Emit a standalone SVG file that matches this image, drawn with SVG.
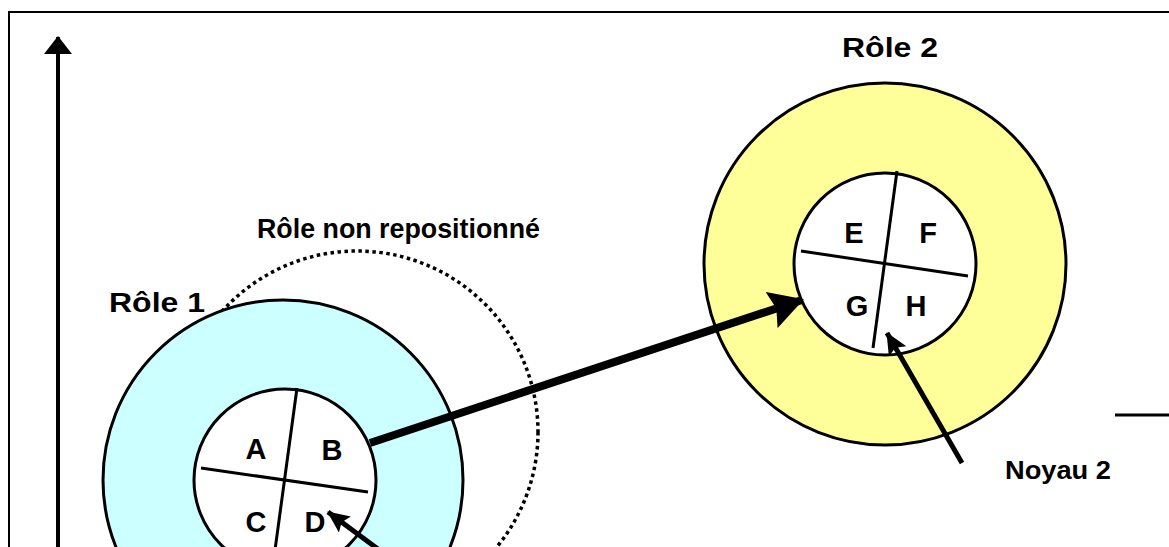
<svg xmlns="http://www.w3.org/2000/svg" width="1169" height="547" viewBox="0 0 1169 547">
  <style>
    .lbl { font-family: "Liberation Sans", Arial, sans-serif; font-weight: bold; fill: #000; }
    .title { font-size: 27px; }
    .quad { font-size: 29px; text-anchor: middle; }
    .ring { stroke: #000; stroke-width: 3; }
    .div { stroke: #000; stroke-width: 3; fill: none; }
  </style>
  <defs>
    <marker id="headBig" markerUnits="userSpaceOnUse" viewBox="0 0 34 38" refX="32" refY="19" markerWidth="34" markerHeight="38" orient="auto">
      <path d="M0,0 L34,19 L0,38 L5,19 Z" fill="#000"/>
    </marker>
    <marker id="headSmall" markerUnits="userSpaceOnUse" viewBox="0 0 22 20" refX="21" refY="10" markerWidth="22" markerHeight="20" orient="auto">
      <path d="M0,0 L22,10 L0,20 L4,10 Z" fill="#000"/>
    </marker>
    <marker id="headAxis" markerUnits="userSpaceOnUse" viewBox="0 0 18 28" refX="17" refY="14" markerWidth="18" markerHeight="28" orient="auto">
      <path d="M0,0 L18,14 L0,28 Z" fill="#000"/>
    </marker>
  </defs>

  <g id="frame">
    <path d="M9,547 V12 H1169" fill="none" stroke="#000" stroke-width="2"/>
    <line x1="1115" y1="415" x2="1169" y2="415" stroke="#000" stroke-width="3"/>
  </g>

  <g id="axis">
    <line x1="58" y1="547" x2="58" y2="37" stroke="#000" stroke-width="4" marker-end="url(#headAxis)"/>
  </g>

  <g id="role-non-repositionne">
    <circle cx="357" cy="432" r="181" fill="none" stroke="#000" stroke-width="3.5" stroke-dasharray="3.5 3.5"/>
    <text class="lbl title" x="257" y="238" textLength="283" lengthAdjust="spacingAndGlyphs">Rôle non repositionné</text>
  </g>

  <g id="role1">
    <circle class="ring" cx="283" cy="480" r="180" fill="#CCFFFF"/>
    <circle class="ring" cx="285" cy="480" r="91" fill="#FFFFFF"/>
    <line class="div" x1="297" y1="388" x2="275" y2="550"/>
    <line class="div" x1="201" y1="468" x2="368" y2="492"/>
    <text class="lbl quad" x="256" y="459">A</text>
    <text class="lbl quad" x="332" y="460">B</text>
    <text class="lbl quad" x="256" y="532">C</text>
    <text class="lbl quad" x="315" y="532">D</text>
    <text class="lbl title" x="109" y="312" textLength="96" lengthAdjust="spacingAndGlyphs">Rôle 1</text>
  </g>

  <g id="role2">
    <circle class="ring" cx="885" cy="264" r="181" fill="#FFFF99"/>
    <circle class="ring" cx="885" cy="264" r="91" fill="#FFFFFF"/>
    <line class="div" x1="897" y1="171" x2="873" y2="348"/>
    <line class="div" x1="801" y1="251" x2="968" y2="276"/>
    <text class="lbl quad" x="854" y="243">E</text>
    <text class="lbl quad" x="928" y="243">F</text>
    <text class="lbl quad" x="857" y="316">G</text>
    <text class="lbl quad" x="916" y="316">H</text>
    <text class="lbl title" x="842" y="57" textLength="96" lengthAdjust="spacingAndGlyphs">Rôle 2</text>
  </g>

  <g id="noyau2-label">
    <text class="lbl" style="font-size:25px" x="1005" y="479" textLength="106" lengthAdjust="spacingAndGlyphs">Noyau 2</text>
  </g>

  <g id="connectors">
    <line x1="370" y1="443" x2="802" y2="300" stroke="#000" stroke-width="8" marker-end="url(#headBig)"/>
    <line x1="962" y1="463" x2="887" y2="333" stroke="#000" stroke-width="5" marker-end="url(#headSmall)"/>
    <line x1="390" y1="558" x2="328" y2="512" stroke="#000" stroke-width="5" marker-end="url(#headSmall)"/>
  </g>
</svg>
